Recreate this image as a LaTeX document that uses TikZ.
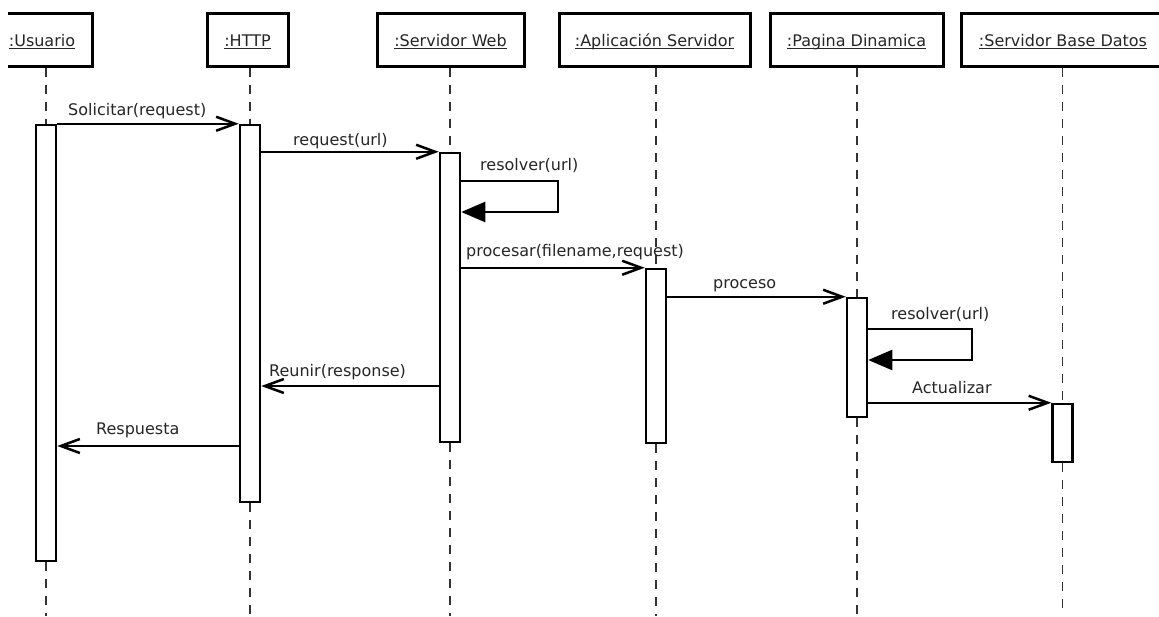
\documentclass[tikz,border=0pt]{standalone}
\usepackage{fontspec}
\setmainfont{DejaVu Sans}
\usetikzlibrary{arrows.meta,calc}
% underline at a fixed distance below the baseline, ignoring descenders
\newcommand\ulx[1]{\underline{\smash{#1}}}
\begin{document}
\begin{tikzpicture}[x=1pt,y=-1pt,
  txt/.style={text=black!85,font=\fontsize{16}{19}\selectfont},
  head/.style={txt,draw,line width=3pt,minimum height=53pt,
    text height=14pt,text depth=0pt,inner sep=0pt},
  bar/.style={draw,fill=white,line width=2.5pt,minimum width=20pt,inner sep=0pt},
  life/.style={line width=1.5pt,black!80,dash pattern=on 9pt off 8pt},
  msg/.style={line width=2.5pt,-{Straight Barb[length=19pt,width=14pt]}},
  selfmsg/.style={line width=2.5pt,-{Triangle[length=24pt,width=20pt]}},
  lbl/.style={txt,anchor=base west,inner sep=0pt}]
\useasboundingbox (0,0) rectangle (1159,616);
\fill[white] (0,0) rectangle (1159,616);
\clip (8,0) rectangle (1159,616);

% object heads
\node[head,minimum width=100pt] (hU) at (42,39.5)    {\ulx{:Usuario}};
\node[head,minimum width=81pt]  (hH) at (247.5,39.5) {\ulx{:HTTP}};
\node[head,minimum width=147pt] (hW) at (450.5,39.5) {\ulx{:Servidor Web}};
\node[head,minimum width=191pt] (hA) at (654.5,39.5) {\ulx{:Aplicación Servidor}};
\node[head,minimum width=173pt] (hP) at (856.5,39.5) {\ulx{:Pagina Dinamica}};
\node[head,minimum width=204pt] (hD) at (1063,39.5)  {\ulx{:Servidor Base Datos}};

% activation bars
\node[bar,minimum height=436pt] (bU) at (46,343)     {};
\node[bar,minimum height=377pt] (bH) at (250,313.5)  {};
\node[bar,minimum height=289pt] (bW) at (450,297.5)  {};
\node[bar,minimum height=174pt] (bA) at (656,356)    {};
\node[bar,minimum height=119pt] (bP) at (857,357.5)  {};
\node[bar,minimum height=58pt]  (bD) at (1062.5,433) {};

% lifelines (hidden behind the bars)
\foreach \h/\b in {hU/bU,hH/bH,hW/bW,hA/bA,hP/bP,hD/bD}{
  \draw[life] (\h.south -| \b) -- (\b.north);
  \draw[life] (\b.south) -- (\b |- 0,616);
}

% self-call corners
\coordinate (rW) at (558,212);
\coordinate (rP) at (972,360);

% messages
\draw[msg] (bU.north east) -- (bH.north west);
\draw[msg] (bH.east |- bW.north) -- (bW.north west);
\draw[selfmsg] (bW.east |- 0,181) -| (rW) -- (bW.east |- rW);
\draw[msg] (bW.east |- bA.north) -- (bA.north west);
\draw[msg] (bA.east |- bP.north) -- (bP.north west);
\draw[selfmsg] (bP.east |- 0,329) -| (rP) -- (bP.east |- rP);
\draw[msg] (bP.east |- bD.north) -- (bD.north west);
\draw[msg] (bW.west |- 0,386) -- (bH.east |- 0,386);
\draw[msg] (bH.west |- 0,446) -- (bU.east |- 0,446);

% message labels
\node[lbl] (l1) at (68,115)  {Solicitar(request)};
\node[lbl] (l2) at (293,145) {request(url)};
\node[lbl] (l3) at (480,170) {resolver(url)};
\node[lbl] (l4) at (466,256) {procesar(filename,request)};
\node[lbl] (l5) at (713,288) {proceso};
\node[lbl] (l6) at (891,319) {resolver(url)};
\node[lbl] (l7) at (912,393) {Actualizar};
\node[lbl] (l8) at (269,376) {Reunir(response)};
\node[lbl] (l9) at (96,434)  {Respuesta};
\end{tikzpicture}
\end{document}
